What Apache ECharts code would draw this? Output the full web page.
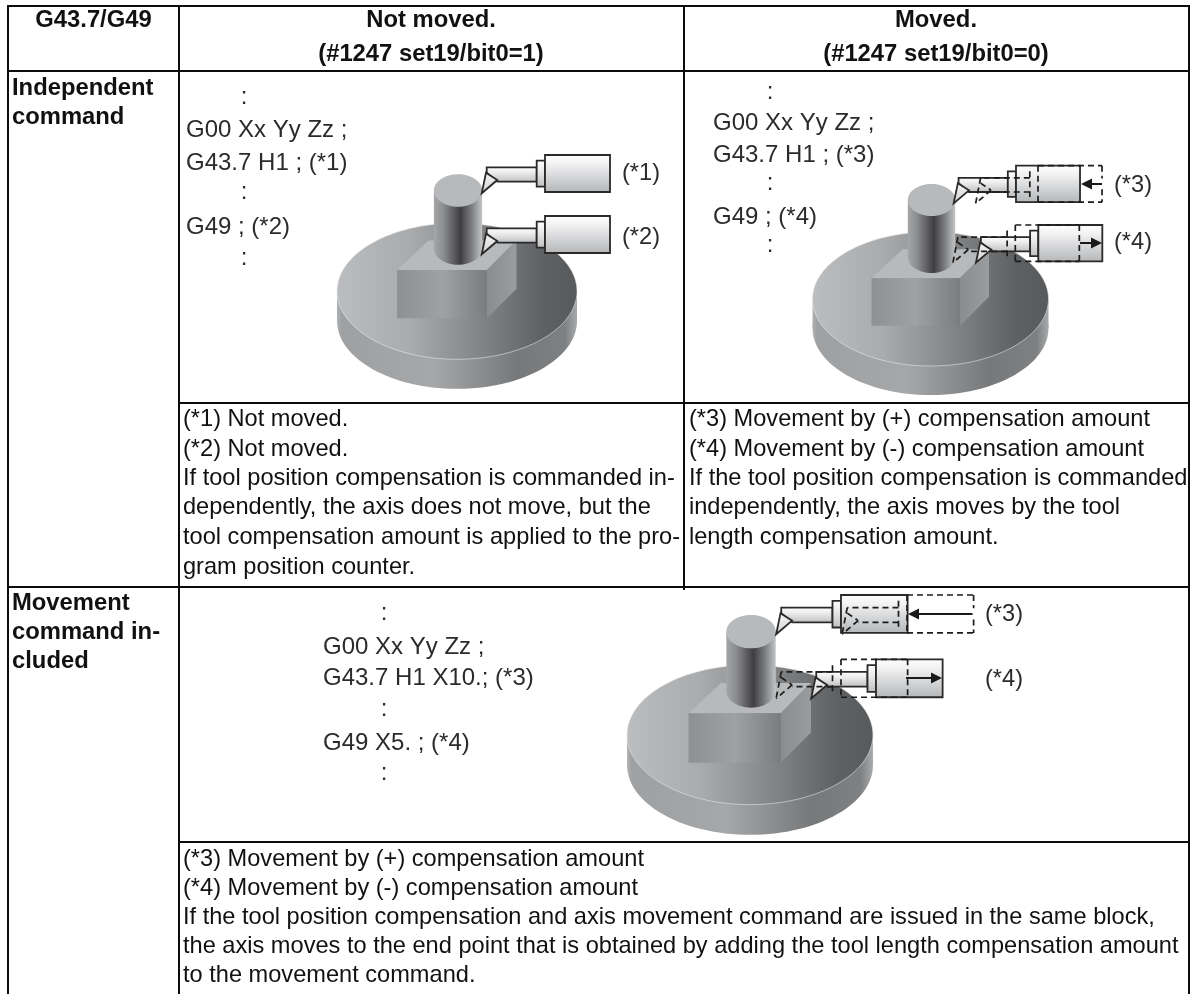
<!DOCTYPE html>
<html><head><meta charset="utf-8">
<style>html,body{margin:0;padding:0;background:#fff}#c{width:1192px;height:994px}</style>
<script src="https://cdn.jsdelivr.net/npm/echarts@6/dist/echarts.min.js"></script>
</head><body><div id="c"></div>
<script>
const headerCol1 = ['G43.7/G49'];
const headerCol2 = ['Not moved.', '(#1247 set19/bit0=1)'];
const headerCol3 = ['Moved.', '(#1247 set19/bit0=0)'];
const rowLabel1 = ['Independent', 'command'];
const rowLabel2 = ['Movement', 'command in-', 'cluded'];
const code1 = [':', 'G00 Xx Yy Zz ;', 'G43.7 H1 ; (*1)', ':', 'G49 ; (*2)', ':'];
const code2 = [':', 'G00 Xx Yy Zz ;', 'G43.7 H1 ; (*3)', ':', 'G49 ; (*4)', ':'];
const code3 = [':', 'G00 Xx Yy Zz ;', 'G43.7 H1 X10.; (*3)', ':', 'G49 X5. ; (*4)', ':'];
const notes1 = ['(*1) Not moved.', '(*2) Not moved.',
  'If tool position compensation is commanded in-',
  'dependently, the axis does not move, but the',
  'tool compensation amount is applied to the pro-',
  'gram position counter.'];
const notes2 = ['(*3) Movement by (+) compensation amount',
  '(*4) Movement by (-) compensation amount',
  'If the tool position compensation is commanded',
  'independently, the axis moves by the tool',
  'length compensation amount.'];
const notes3 = ['(*3) Movement by (+) compensation amount',
  '(*4) Movement by (-) compensation amount',
  'If the tool position compensation and axis movement command are issued in the same block,',
  'the axis moves to the end point that is obtained by adding the tool length compensation amount',
  'to the movement command.'];

const G = echarts.graphic;
const FONT = '"Liberation Sans", Arial, sans-serif';
const els = [];
const grad = stops => new G.LinearGradient(0, 0, 1, 0, stops.map(c => ({offset: c[0], color: c[1]})));
const vgrad = stops => new G.LinearGradient(0, 0, 0, 1, stops.map(c => ({offset: c[0], color: c[1]})));

function text(t, x, y, o) {
  o = o || {};
  els.push({type: 'text', silent: true, style: {
    text: t, x, y, fill: o.fill || '#111', fontFamily: FONT,
    fontSize: o.size || (o.bold ? 23.8 : 23.6), fontWeight: o.bold ? 'bold' : 'normal',
    align: o.align || 'left', verticalAlign: 'middle'
  }});
}
function line(x1, y1, x2, y2, w, c) {
  els.push({type: 'line', silent: true, shape: {x1, y1, x2, y2},
    style: {stroke: c || '#0c0c0c', lineWidth: w || 2, lineCap: 'butt'}});
}
function stack(lines, x, ys, o) { lines.forEach((t, i) => text(t, x, ys[i], o)); }

function work(cx, top, s) {
  const ry = 67 * s, rx = 118 * s, cy = top + ry, th = 29 * s;
  const band = grad([[0, '#b0b2b4'], [0.02, '#9ea0a2'], [0.4, '#a5a7a9'], [0.75, '#77787a'], [0.95, '#7f8082'], [1, '#a8a9ab']]);
  els.push({type: 'ellipse', silent: true, shape: {cx, cy: cy + th, rx, ry}, style: {fill: band}});
  els.push({type: 'rect', silent: true, shape: {x: cx - rx, y: cy, width: 2 * rx, height: th}, style: {fill: band}});
  els.push({type: 'ellipse', silent: true, shape: {cx, cy, rx, ry},
    style: {fill: grad([[0, '#bbbdbf'], [0.3, '#a9abad'], [0.62, '#808183'], [0.85, '#606163'], [1, '#58595b']]),
      stroke: 'rgba(235,236,237,.7)', lineWidth: 0.8}});
  const P = (dx, dy) => [cx + dx * s, cy + dy * s];
  els.push({type: 'polygon', silent: true, shape: {points: [P(-59, -20.7), P(-28, -49.7), P(58.5, -49.7), P(29.5, -20.7)]},
    style: {fill: '#b7b9bb'}});
  els.push({type: 'polygon', silent: true, shape: {points: [P(29.5, -20.7), P(58.5, -49.7), P(58.5, -2.3), P(29.5, 26.7)]},
    style: {fill: grad([[0, '#8b8c8e'], [1, '#9b9c9e']])}});
  els.push({type: 'polygon', silent: true, shape: {points: [P(-59, -20.7), P(29.5, -20.7), P(29.5, 26.7), P(-59, 26.7)]},
    style: {fill: grad([[0, '#8e9092'], [0.5, '#a0a1a3'], [1, '#7b7c7e']])}});
  const cyl = grad([[0, '#a4a6a8'], [0.2, '#8b8c8e'], [0.55, '#3f3f41'], [0.78, '#7c7d7f'], [1, '#c3c4c6']]);
  const c = P(1, 0)[0], crx = 23.7 * s, cry = 16 * s, ct = cy - 99 * s, cb = cy - 42 * s;
  els.push({type: 'ellipse', silent: true, shape: {cx: c, cy: cb, rx: crx, ry: cry}, style: {fill: cyl}});
  els.push({type: 'rect', silent: true, shape: {x: c - crx, y: ct, width: 2 * crx, height: cb - ct}, style: {fill: cyl}});
  els.push({type: 'ellipse', silent: true, shape: {cx: c, cy: ct, rx: crx, ry: cry}, style: {fill: '#b7b9bb'}});
}

function tool(ax, ay, s) {
  const X = d => ax + d * s, Y = d => ay + d * s;
  const st = {stroke: '#2a2a2a', lineWidth: 1.8};
  const gr = vgrad([[0, '#ffffff'], [0.25, '#f2f2f3'], [1, '#b3b5b7']]);
  const sh = vgrad([[0, '#ffffff'], [0.35, '#eeeeef'], [1, '#bcbdbf']]);
  els.push({type: 'polygon', silent: true, shape: {points: [[X(-58.3), Y(12.3)], [X(-8.3), Y(12.3)], [X(-8.3), Y(26.7)], [X(-47.7), Y(26.7)], [X(-58.3), Y(17.7)]]}, style: Object.assign({fill: sh}, st)});
  els.push({type: 'rect', silent: true, shape: {x: X(-8.3), y: Y(5.7), width: 8.3 * s, height: 26 * s}, style: Object.assign({fill: sh}, st)});
  els.push({type: 'rect', silent: true, shape: {x: X(0), y: Y(0), width: 65 * s, height: 37 * s}, style: Object.assign({fill: gr}, st)});
  els.push({type: 'polygon', silent: true, shape: {points: [[X(-59), Y(17.7)], [X(-47.7), Y(25)], [X(-63.3), Y(38.3)]]}, style: Object.assign({fill: vgrad([[0, '#f6f6f6'], [1, '#cfd0d1']])}, st)});
}

function ghost(ax, ay, s, dx) {
  const gx = ax + dx, X = d => gx + d * s, Y = d => ay + d * s;
  const st = {stroke: '#1c1c1c', lineWidth: 1.7, lineDash: [6, 4]};
  const seg = (x1, y1, x2, y2) => els.push({type: 'line', silent: true, shape: {x1, y1, x2, y2}, style: st});
  seg(X(0), Y(0), X(65), Y(0));
  seg(X(0), Y(37), X(65), Y(37));
  if (dx > 0) { seg(X(65), Y(0), X(65), Y(13)); seg(X(65), Y(24), X(65), Y(37)); }
  else seg(X(65), Y(0), X(65), Y(37));
  seg(X(0), Y(0), X(0), Y(37));
  seg(X(-8.3), Y(5.7), X(-8.3), Y(31.7));
  seg(X(-8.3), Y(12.3), X(-58.3), Y(12.3));
  seg(X(-8.3), Y(26.7), X(-47.7), Y(26.7));
  seg(X(-58.3), Y(17.7), X(-47.7), Y(25));
  seg(X(-47.7), Y(25), X(-63.3), Y(38.3));
  seg(X(-58.3), Y(12.3), X(-63.3), Y(38.3));
}

function arrow(x1, x2, y) {
  const d = x2 > x1 ? 1 : -1;
  line(x1, y, x2 - d * 6, y, 2, '#1a1a1a');
  els.push({type: 'polygon', silent: true, shape: {points: [[x2, y], [x2 - d * 11, y - 5.5], [x2 - d * 11, y + 5.5]]}, style: {fill: '#1a1a1a'}});
}

// table rules
const L = 8, C2 = 179, C3 = 684, R = 1189;
line(L - 1, 6, R + 1, 6);
line(L - 1, 71, R + 1, 71);
line(C2, 403, R + 1, 403);
line(L, 587, R + 1, 587);
line(C2, 842, R + 1, 842);
line(L, 5, L, 994);
line(C2, 5, C2, 994);
line(R, 5, R, 994);
line(C3, 5, C3, 590);

// headers
text(headerCol1[0], 93.5, 20, {bold: true, align: 'center'});
text(headerCol2[0], 431, 20, {bold: true, align: 'center'});
text(headerCol2[1], 431, 54, {bold: true, align: 'center'});
text(headerCol3[0], 936, 20, {bold: true, align: 'center'});
text(headerCol3[1], 936, 54, {bold: true, align: 'center'});
stack(rowLabel1, 12, [88, 117], {bold: true});
stack(rowLabel2, 12, [603, 632, 661], {bold: true});

// drawings
work(457, 223, 1.017);
tool(545, 155, 1);
tool(545, 216, 1);
text('(*1)', 622, 173, {fill: '#2b2b2b'});
text('(*2)', 622, 237, {fill: '#2b2b2b'});

work(930.5, 232, 1);
tool(1016, 165.7, 0.985);
ghost(1016, 165.7, 0.985, 22);
arrow(1102, 1081, 184);
tool(1038.3, 225, 0.985);
ghost(1038.3, 225, 0.985, -23);
arrow(1080, 1102, 243);
text('(*3)', 1114, 185, {fill: '#2b2b2b'});
text('(*4)', 1114, 242, {fill: '#2b2b2b'});

work(750, 665, 1.042);
tool(841, 595, 1.025);
ghost(841, 595, 1.025, 66);
arrow(972.5, 908, 614);
tool(876, 659.3, 1.025);
ghost(876, 659.3, 1.025, -35);
arrow(906, 942, 678);
text('(*3)', 985, 614, {fill: '#2b2b2b'});
text('(*4)', 985, 679, {fill: '#2b2b2b'});

// code listings
function codes(list, x, colonX, ys) {
  list.forEach((t, i) => {
    if (t === ':') text(t, colonX, ys[i], {size: 24, fill: '#2b2b2b', align: 'center'});
    else text(t, x, ys[i], {size: 24, fill: '#2b2b2b'});
  });
}
codes(code1, 186, 244, [97, 130, 163, 192, 227, 258]);
codes(code2, 713, 770, [92, 123, 155, 183, 217, 245]);
codes(code3, 323, 384, [613, 647, 678, 709, 743, 773]);

// notes
stack(notes1, 183, [419, 449, 478, 507, 537, 567]);
stack(notes2, 689, [419, 449, 478, 507, 537]);
stack(notes3, 183, [859, 888, 917, 946, 975]);

const chart = echarts.init(document.getElementById('c'), null, {renderer: 'canvas', width: 1192, height: 994});
chart.setOption({backgroundColor: '#ffffff', animation: false, graphic: {elements: els}});
</script></body></html>
